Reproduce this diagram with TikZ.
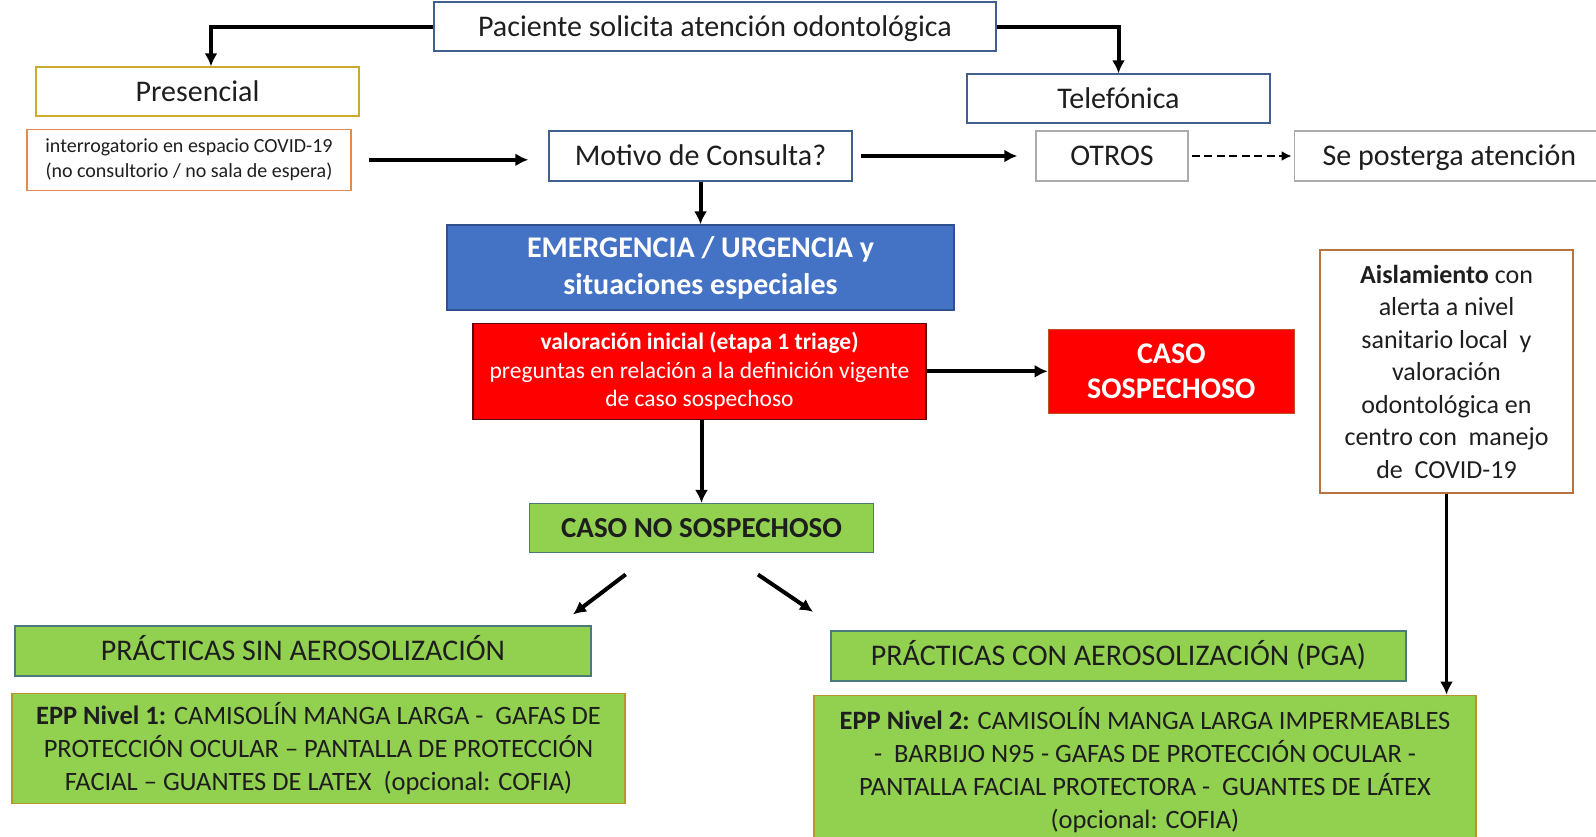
\documentclass[tikz,border=0pt]{standalone}
\usepackage{fontspec}
\setmainfont{Carlito}
\usepackage{tikz}
\usetikzlibrary{arrows.meta}
\usetikzlibrary{positioning, calc}
\definecolor{txtgray}{HTML}{1E1E1E}
\definecolor{bluebd}{HTML}{41608F}
\definecolor{goldbd}{HTML}{CDAA2A}
\definecolor{orangebd}{HTML}{E08A4E}
\definecolor{graybd}{HTML}{ABABAB}
\definecolor{emergblue}{HTML}{4472C4}
\definecolor{emergbd}{HTML}{2F528F}
\definecolor{redfill}{HTML}{FF0000}
\definecolor{darkredbd}{HTML}{5A0A0A}
\definecolor{sospbd}{HTML}{C0502A}
\definecolor{brownbd}{HTML}{B8743E}
\definecolor{greenfill}{HTML}{92D050}
\definecolor{greenbd}{HTML}{4A7A7A}
\definecolor{eppbd}{HTML}{B8962A}
\tikzstyle{block} = [draw,rectangle,line width=1.3pt,inner sep=0pt,align=center,text=txtgray]
\tikzstyle{greenblock} = [block,fill=greenfill,draw=greenbd]
\tikzstyle{connector} = [-{Latex[length=13pt,width=13pt]},line width=4pt]
\tikzstyle{bigtxt} = [font=\fontsize{30}{36}\selectfont,text height=21pt,text depth=1.5pt]
\tikzstyle{midtxt} = [font=\fontsize{26.5}{33}\selectfont]
\tikzstyle{smalltxt} = [font=\fontsize{20}{25}\selectfont]

\begin{document}
\begin{tikzpicture}[x=1pt,y=-1pt]
	\useasboundingbox (0,0) rectangle (1596,836);

	  \node[block, draw=bluebd, minimum width=562pt, minimum height=49pt, bigtxt] (pac) at (715,26.5)
	  	{Paciente solicita atención odontológica};

	  \node[block, draw=goldbd, minimum width=323pt, minimum height=49pt, bigtxt] (pres) at (197.5,91.5)
	  	{Presencial};

	  \node[block, draw=orangebd, minimum width=324pt, minimum height=61pt, smalltxt,
	  	below = 12pt of pres, xshift=-8.5pt] (interr)
	  	{interrogatorio en espacio COVID-19\\(no consultorio / no sala de espera)};

	  \node[block, draw=bluebd, minimum width=303pt, minimum height=49pt, bigtxt] (tel) at (1118.5,98.5)
	  	{Telefónica};

	  \node[block, draw=bluebd, minimum width=303pt, minimum height=50pt, bigtxt] (motivo) at (700.5,156)
	  	{Motivo de Consulta?};

	  \node[block, draw=graybd, minimum width=152pt, minimum height=50pt, bigtxt] (otros) at (1112,156)
	  	{OTROS};

	  \node[block, draw=graybd, minimum width=310pt, minimum height=50pt, bigtxt,
	  	right = 105pt of otros] (post)
	  	{Se posterga atención};

	  \node[block, draw=emergbd, fill=emergblue, text=white, minimum width=507pt, minimum height=85pt,
	  	font=\fontsize{30}{37}\selectfont\bfseries] (emerg) at (700.5,267.5)
	  	{EMERGENCIA / URGENCIA y\\situaciones especiales};

	  \node[block, draw=darkredbd, fill=redfill, text=white, minimum width=453pt, minimum height=96pt,
	  	font=\fontsize{23.5}{28.5}\selectfont, below = 12pt of emerg, xshift=-1pt] (valor)
	  	{\textbf{valoración inicial (etapa 1 triage)}\\preguntas en relación a la definición vigente\\de caso sospechoso};

	  \node[block, draw=sospbd, fill=redfill, text=white, minimum width=246pt, minimum height=84pt,
	  	font=\fontsize{30}{34.5}\selectfont\bfseries, right = 121pt of valor] (sosp)
	  	{CASO\\SOSPECHOSO};

	  \node[block, draw=brownbd, minimum width=253pt, minimum height=243pt,
	  	font=\fontsize{26}{32.5}\selectfont] (aisl) at (1446.5,371.5)
	  	{\textbf{Aislamiento} con\\alerta a nivel\\sanitario local~ y\\valoración\\odontológica en\\centro con~ manejo\\de~ COVID-19};

	  \node[greenblock, minimum width=344pt, minimum height=49pt, text height=20.5pt, text depth=1.5pt,
	  	font=\fontsize{29}{34}\selectfont\bfseries, below = 83pt of valor, xshift=2pt] (nosos)
	  	{CASO NO SOSPECHOSO};

	  \node[greenblock, minimum width=576pt, minimum height=50pt, bigtxt] (sin) at (303,651)
	  	{PRÁCTICAS SIN AEROSOLIZACIÓN};

	  \node[greenblock, draw=eppbd, minimum width=613pt, minimum height=110pt, midtxt,
	  	below = 16pt of sin, xshift=15.5pt] (epp1)
	  	{\textbf{EPP Nivel 1:} CAMISOLÍN MANGA LARGA -~ GAFAS DE\\PROTECCIÓN OCULAR – PANTALLA DE PROTECCIÓN\\FACIAL – GUANTES DE LATEX~ (opcional: COFIA)};

	  \node[greenblock, minimum width=575pt, minimum height=50pt, bigtxt] (con) at (1118.5,656)
	  	{PRÁCTICAS CON AEROSOLIZACIÓN (PGA)};

	  \node[greenblock, draw=eppbd, minimum width=662pt, minimum height=150pt, midtxt,
	  	below = 13pt of con, xshift=26.5pt] (epp2)
	  	{\textbf{EPP Nivel 2:} CAMISOLÍN MANGA LARGA IMPERMEABLES\\-~ BARBIJO N95 - GAFAS DE PROTECCIÓN OCULAR -\\PANTALLA FACIAL PROTECTORA -~ GUANTES DE LÁTEX\\(opcional: COFIA)};

	% now link the nodes

	\draw [connector] (pac.west) -| ([xshift=13.5pt]pres.north);
	\draw [connector] (pac.east) -| (tel.north);
	\draw [connector, shorten <=17pt, shorten >=20pt] (interr.east) -- (interr.east -| motivo.west);
	\draw [connector, shorten <=8pt, shorten >=18pt] (motivo.east) -- (otros.west);
	\draw [-{Latex[length=10pt,width=10pt]}, line width=2.8pt, dash pattern=on 8pt off 4.5pt, shorten <=3pt, shorten >=2pt] (otros.east) -- (post.west);
	\draw [connector] (motivo.south) -- (emerg.north);
	\draw [connector] (valor.east) -- (valor.east -| sosp.west);
	\draw [connector] (nosos.north |- valor.south) -- (nosos.north);
	\draw [connector, shorten <=35pt, shorten >=18pt] ([xshift=-48pt]nosos.south) -- ([xshift=-33pt]sin.north east);
	\draw [connector, shorten <=38pt, shorten >=33pt] ([xshift=25pt]nosos.south) -- ([xshift=10pt]con.north west);
	\draw [connector, line width=3.5pt] (aisl.south) -- (aisl.south |- epp2.north);

  \end{tikzpicture}
\end{document}
